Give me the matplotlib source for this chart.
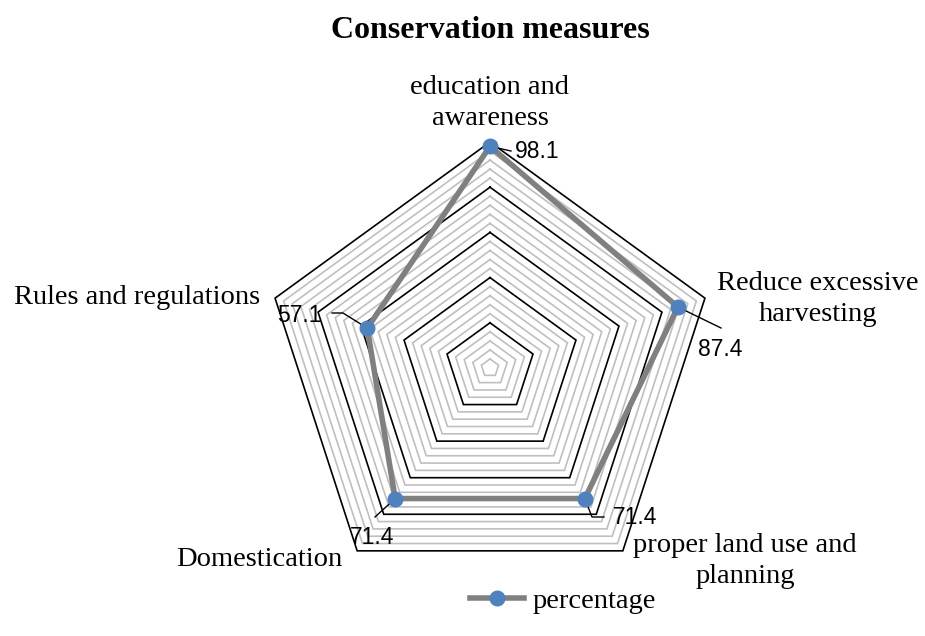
import numpy as np
import matplotlib
matplotlib.use('Agg')
import matplotlib.pyplot as plt
from matplotlib.lines import Line2D

# Data
categories = ['education and\nawareness', 'Reduce excessive\nharvesting',
              'proper land use and\nplanning', 'Domestication', 'Rules and regulations']
values = [98.1, 87.4, 71.4, 71.4, 57.1]
major_ticks = [20, 40, 60, 80, 100]
minor_ticks = [r for r in range(4, 100, 4) if r % 20 != 0]
series_name = 'percentage'

W, H = 925, 636
CX, CY = 490, 368      # pixel centre of the radar
PX = 2.26              # pixels per unit

fig = plt.figure(figsize=(W / 100, H / 100), dpi=100)
ax = fig.add_axes([0, 0, 1, 1])
ax.set_xlim(-CX / PX, (W - CX) / PX)
ax.set_ylim(-(H - CY) / PX, CY / PX)
ax.axis('off')

ang = np.pi / 2 - np.arange(len(categories)) * 2 * np.pi / len(categories)


def poly(r):
    r = np.asarray(r, dtype=float) * np.ones(len(ang))
    x = r * np.cos(ang)
    y = r * np.sin(ang)
    return np.append(x, x[0]), np.append(y, y[0])


def to_data(px, py):
    return (px - CX) / PX, (CY - py) / PX


# grid
for r in minor_ticks:
    x, y = poly(r)
    ax.plot(x, y, color='#bfbfbf', lw=1.2, zorder=1, solid_joinstyle='miter')
for r in major_ticks:
    x, y = poly(r)
    ax.plot(x, y, color='black', lw=1.2, zorder=2, solid_joinstyle='miter')

# series
x, y = poly(values)
ax.plot(x, y, color='#808080', lw=4, zorder=3, solid_joinstyle='miter')
ax.plot(x[:-1], y[:-1], 'o', color='#4f81bd', ms=10.5, mec='#4f81bd', zorder=5)

# data labels with leader lines (pixel positions)
leaders = [[(511, 151)], [(721, 328)], [(592, 517), (604, 517)],
           [(375, 517)], [(343, 313), (332, 313)]]
label_pos = [(515, 152, 'left'), (698, 349, 'left'), (613, 518, 'left'),
             (350, 537, 'left'), (322, 315, 'right')]
for i, v in enumerate(values):
    pts = [(x[i], y[i])] + [to_data(*p) for p in leaders[i]]
    ax.plot([p[0] for p in pts], [p[1] for p in pts], color='black', lw=1.0, zorder=4)
    lx, ly, ha = label_pos[i]
    ax.text(*to_data(lx, ly), f'{v}', ha=ha, va='center', fontsize=16.5,
            family='Liberation Sans', zorder=6)

# category labels
cat_pos = [(490, 103), (818, 299), (745, 561), (259, 560), (137, 297)]
for lab, (px, py) in zip(categories, cat_pos):
    fig.text(px / W, 1 - py / H, lab, ha='center', va='center', fontsize=20.5,
             family='Liberation Serif', linespacing=1.32)

fig.text(490 / W, 1 - 30 / H, 'Conservation measures', ha='center', va='center',
         fontsize=23, fontweight='bold', family='Liberation Serif')

handle = Line2D([], [], color='#808080', lw=4, marker='o', ms=10.5,
                mfc='#4f81bd', mec='#4f81bd')
fig.legend([handle], [series_name], loc='center', bbox_to_anchor=(563 / W, 1 - 601 / H),
           frameon=False, handlelength=1.9, handletextpad=0.3,
           prop={'family': 'Liberation Serif', 'size': 20.5})

fig.savefig('out.png', dpi=100)
